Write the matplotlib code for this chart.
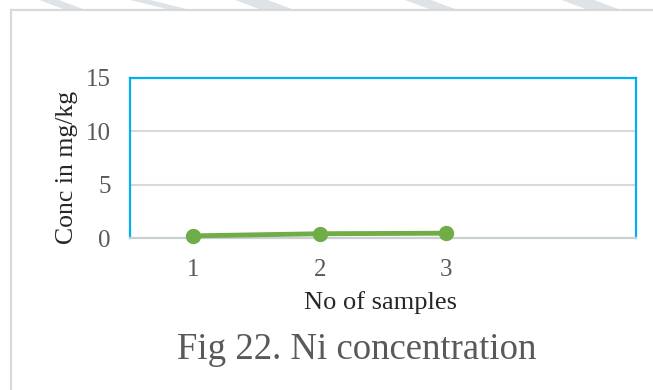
import matplotlib.pyplot as plt
from matplotlib.lines import Line2D
from matplotlib.patches import Polygon

samples = [1, 2, 3]
ni_conc = [0.2, 0.4, 0.45]
x_ticks = [1, 2, 3]
y_ticks = [0, 5, 10, 15]

plt.rcParams['font.family'] = ['Liberation Serif', 'DejaVu Serif']

fig = plt.figure(figsize=(6.53, 3.9), dpi=100)

# faint watermark strip along the top edge
for xs in [(0.06, 0.10, 0.13, 0.09), (0.20, 0.26, 0.29, 0.23), (0.62, 0.66, 0.70, 0.66),
           (0.86, 0.90, 0.95, 0.91), (0.36, 0.40, 0.45, 0.41)]:
    fig.patches.append(Polygon([(xs[0], 1.0), (xs[1], 0.975), (xs[2], 0.975), (xs[3], 1.0)],
                               closed=True, transform=fig.transFigure,
                               facecolor='#dde3e6', edgecolor='none', zorder=0))

# frame around the chart area
fig.lines.append(Line2D([11 / 653, 1.0], [1 - 10 / 390, 1 - 10 / 390],
                        transform=fig.transFigure, color='#d9d9d9', lw=1.6))
fig.lines.append(Line2D([11 / 653, 11 / 653], [1 - 10 / 390, 0.0],
                        transform=fig.transFigure, color='#d9d9d9', lw=1.6))

ax = fig.add_axes([130 / 653, 1 - 238 / 390, (636 - 130) / 653, (238 - 78) / 390])
ax.plot(samples, ni_conc, color='#70ad47', lw=3.5, marker='o', ms=10,
        solid_capstyle='round', zorder=3, clip_on=False)

ax.set_xlim(0.5, 4.5)
ax.set_ylim(0, 15)
ax.set_xticks(x_ticks)
ax.set_yticks(y_ticks)
ax.tick_params(length=0, labelsize=18, labelcolor='#595959')
ax.tick_params(axis='x', pad=15)
ax.tick_params(axis='y', pad=14)
ax.yaxis.grid(True, color='#d9d9d9', lw=1.5)
ax.set_axisbelow(True)

for side in ['top', 'left', 'right']:
    ax.spines[side].set_color('#00b0f0')
    ax.spines[side].set_linewidth(1.6)
ax.spines['bottom'].set_color('#c9d0d4')
ax.spines['bottom'].set_linewidth(1.6)

ax.set_xlabel('No of samples', fontsize=19, color='#262626')
ax.set_ylabel('Conc in mg/kg', fontsize=18.5, color='#262626')
ax.xaxis.set_label_coords(0.496, -0.33)
ax.yaxis.set_label_coords(-0.103, 0.444)

fig.text(357 / 653, 1 - 350 / 390, 'Fig 22. Ni concentration', fontsize=26.5,
         color='#595959', ha='center', va='center')

fig.savefig('out.png', dpi=100)
